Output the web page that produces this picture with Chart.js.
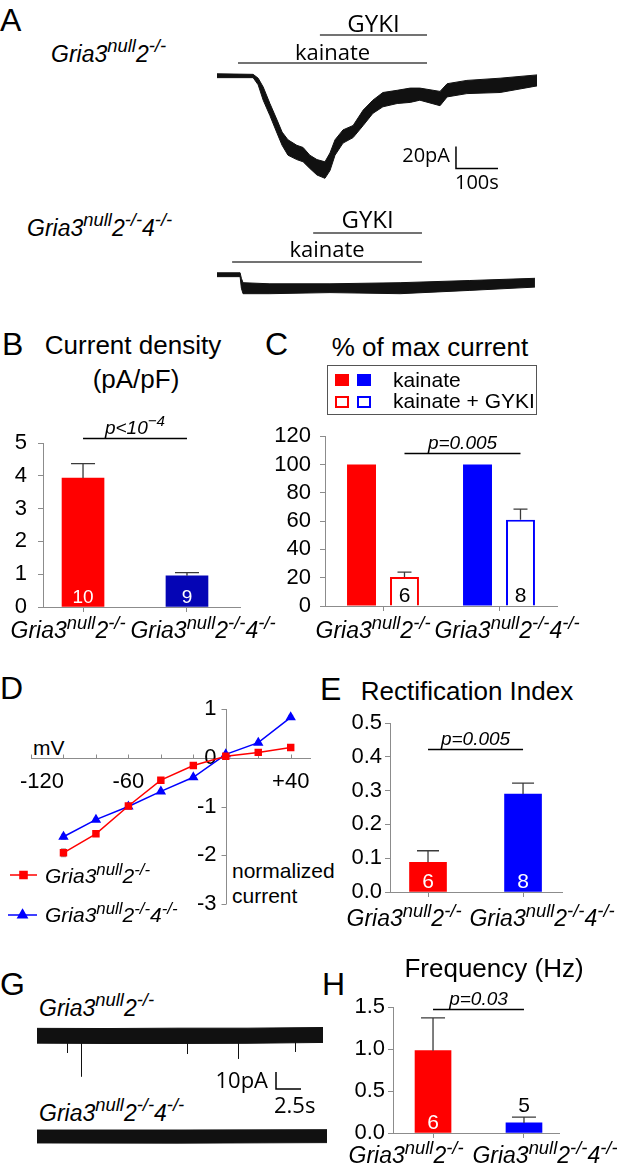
<!DOCTYPE html>
<html>
<head>
<meta charset="utf-8">
<title>Gria3 null figure</title>
<script src="https://cdn.jsdelivr.net/npm/chart.js@4.4.1/dist/chart.umd.min.js"></script>
<style>
  html, body { margin: 0; padding: 0; background: #fff; }
  #page { position: relative; width: 617px; height: 1171px; overflow: hidden;
          font-family: "Liberation Sans", Arial, sans-serif; color: #000; }
  #page canvas { position: absolute; }
  .txt { position: absolute; white-space: nowrap; line-height: 1; }
  .txt .sup { position: relative; font-size: 80%; top: -0.5em; }
  .legend-box { position: absolute; border: 1px solid #555; box-sizing: border-box; }
  .swatch { position: absolute; box-sizing: border-box; width: 14px; height: 12px; }
</style>
</head>
<body>
<div id="page"></div>
<script>
// ---------- data ----------
const genotypes = ['Gria3^{null}2^{-/-}', 'Gria3^{null}2^{-/-}4^{-/-}'];

// A: kainate currents, time (s) vs current (pA), upper / lower edge of the noisy trace
const a1Time  = [0, 86, 98, 110, 126, 143, 155, 169, 190, 205, 221, 238, 257, 269, 281, 300, 324, 348, 371, 395, 429, 460, 483, 531, 548, 595, 674, 762];
const a1Upper = [2, 1.5, -2, -10, -25, -40, -51, -58, -63, -65, -72, -76, -78, -70, -58, -49, -45, -31, -22, -15, -13, -11, -11, -14, -7, -4, -2, 1];
const a1Lower = [-1.5, -1.5, -8, -22, -36, -52, -63, -72, -76, -78, -84, -90, -93, -86, -72, -61, -56, -45, -34, -28, -25, -24, -22, -27, -19, -16, -15, -9];
const a1Kainate = [50, 500];
const a1Gyki = [245, 500];

const a2Time  = [0, 55, 58, 62, 126, 269, 436, 602, 757];
const a2Upper = [2, 2, -3, -7, -8, -8, -7, -5, -3];
const a2Lower = [-1.5, -1.5, -12, -17, -17, -16, -17, -14, -11];
const a2Kainate = [36, 488];
const a2Gyki = [229, 488];

// B: current density (pA/pF)
const densityMean = [3.93, 0.95];
const densityErr = [0.44, 0.10];
const densityN = [10, 9];
const densityTicks = ['0', '1', '2', '3', '4', '5'];

// C: % of max current
const maxKainate = [100, 100];
const maxKainateGyki = [20.5, 61];
const maxKainateGykiErr = [3.5, 7.5];
const maxN = [6, 8];
const maxTicks = ['0', '20', '40', '60', '80', '100', '120'];

// D: I-V relation (mV vs normalized current)
const ivVoltage = [-100, -80, -60, -40, -20, 0, 20, 40];
const ivGria2 = [-1.95, -1.56, -0.99, -0.46, -0.16, 0.03, 0.11, 0.21];
const ivGria2Err = [0.08, 0.04, 0.02, 0.03, 0.02, 0.01, 0.02, 0.02];
const ivGria24 = [-1.62, -1.27, -1.0, -0.69, -0.40, 0.07, 0.31, 0.83];
const ivGria24Err = [0.05, 0.03, 0.02, 0.02, 0.02, 0.01, 0.03, 0.04];
const ivXTicks = [-120, -100, -80, -60, -40, -20, 0, 20, 40];
const ivXLabelValues = [-120, -60, 40];
const ivXLabels = ['-120', '-60', '+40'];
const ivYTicks = ['1', '0', '-1', '-2', '-3'];

// E: rectification index
const riMean = [0.088, 0.29];
const riErr = [0.034, 0.032];
const riN = [6, 8];
const riTicks = ['0.0', '0.1', '0.2', '0.3', '0.4', '0.5'];

// G: spontaneous currents, time (s) vs current (pA)
const g1Time  = [0, 7, 14, 21, 28.6];
const g1Upper = [4.5, 4.4, 4.6, 4.6, 5.0];
const g1Lower = [-4.2, -4.4, -4.4, -4.3, -3.8];
const g1SpikeTime = [3.0, 4.4, 15.0, 20.1, 25.8];
const g1SpikeAmp = [-10, -24, -10.6, -13.5, -9.4];
const g2Time  = [0, 14, 29];
const g2Upper = [3.8, 3.8, 4.0];
const g2Lower = [-3.8, -3.9, -3.6];

// H: event frequency (Hz)
const freqMean = [0.98, 0.12];
const freqErr = [0.39, 0.07];
const freqN = [6, 5];
const freqTicks = ['0.0', '0.5', '1.0', '1.5'];

// ---------- helpers ----------
const SANS = '"Liberation Sans", Arial, sans-serif';
const TRACE_FONT = '"Open Sans", "Liberation Sans", sans-serif';
const AXIS_GREY = '#8c8c8c';
const RED = '#ff0000';
const BLUE = '#0000ff';
const ASC = 0.8465; // baseline offset of Liberation Sans at line-height 1

Chart.defaults.font.family = SANS;
Chart.defaults.color = '#000';

const page = document.getElementById('page');

function makeCanvas(box) {
  const c = document.createElement('canvas');
  c.width = box.w;
  c.height = box.h;
  c.style.left = box.x + 'px';
  c.style.top = box.y + 'px';
  c.style.width = box.w + 'px';
  c.style.height = box.h + 'px';
  page.appendChild(c);
  return c;
}

function parseRich(s) {
  const parts = [];
  const re = /\^\{([^}]*)\}/g;
  let last = 0, m;
  while ((m = re.exec(s))) {
    if (m.index > last) parts.push({t: s.slice(last, m.index), sup: false});
    parts.push({t: m[1], sup: true});
    last = re.lastIndex;
  }
  if (last < s.length) parts.push({t: s.slice(last), sup: false});
  return parts;
}

function drawRich(ctx, s, x, y, size, align, italic) {
  const parts = parseRich(s);
  const fontFor = p => (italic ? 'italic ' : '') + (p.sup ? size * 0.8 : size) + 'px ' + SANS;
  let w = 0;
  parts.forEach(p => { ctx.font = fontFor(p); p.w = ctx.measureText(p.t).width; w += p.w; });
  let cx = align === 'center' ? x - w / 2 : align === 'right' ? x - w : x;
  ctx.textAlign = 'left';
  ctx.textBaseline = 'alphabetic';
  parts.forEach(p => {
    ctx.font = fontFor(p);
    ctx.fillText(p.t, cx, p.sup ? y - size * 0.4 : y);
    cx += p.w;
  });
}

function richHTML(s) {
  return s.replace(/\^\{([^}]*)\}/g, '<span class="sup">$1</span>');
}

function addText(html, x, baseline, size, opts = {}) {
  const d = document.createElement('div');
  d.className = 'txt';
  d.innerHTML = html;
  d.style.fontSize = size + 'px';
  d.style.top = (baseline - ASC * size) + 'px';
  d.style.left = x + 'px';
  if (opts.italic) d.style.fontStyle = 'italic';
  if (opts.center) d.style.transform = 'translateX(-50%)';
  page.appendChild(d);
}

// ---------- trace panels (A, G) ----------
function traceDecor(o) {
  return {
    id: 'traceDecor',
    afterDatasetsDraw(chart) {
      const {ctx, scales: {x, y}} = chart;
      ctx.save();
      if (o.spikes) {
        ctx.strokeStyle = '#111';
        ctx.lineWidth = 1;
        ctx.beginPath();
        o.spikes.t.forEach((t, i) => {
          const px = Math.round(x.getPixelForValue(t)) + 0.5;
          ctx.moveTo(px, y.getPixelForValue(0));
          ctx.lineTo(px, y.getPixelForValue(o.spikes.amp[i]));
        });
        ctx.stroke();
      }
      (o.drugs || []).forEach(d => {
        const a = x.getPixelForValue(d.period[0]);
        const b = x.getPixelForValue(d.period[1]);
        ctx.strokeStyle = '#444';
        ctx.lineWidth = 1.3;
        ctx.beginPath();
        ctx.moveTo(a, d.lineY);
        ctx.lineTo(b, d.lineY);
        ctx.stroke();
        ctx.fillStyle = '#000';
        ctx.font = d.size + 'px ' + TRACE_FONT;
        ctx.textAlign = 'center';
        ctx.textBaseline = 'alphabetic';
        ctx.fillText(d.name, (a + b) / 2, d.textY);
      });
      if (o.bar) {
        const b = o.bar;
        const sx = x.getPixelForValue(b.t), sx2 = x.getPixelForValue(b.t + b.dt);
        const sy = y.getPixelForValue(b.top), sy2 = y.getPixelForValue(b.top - b.di);
        ctx.strokeStyle = '#000';
        ctx.lineWidth = 1.5;
        ctx.beginPath();
        ctx.moveTo(sx, sy);
        ctx.lineTo(sx, sy2);
        ctx.lineTo(sx2, sy2);
        ctx.stroke();
        ctx.fillStyle = '#000';
        ctx.font = b.size + 'px ' + TRACE_FONT;
        ctx.textBaseline = 'alphabetic';
        ctx.textAlign = 'right';
        ctx.fillText(b.yLabel, sx + b.yDx, sy2 + b.yDy);
        ctx.textAlign = 'left';
        ctx.fillText(b.xLabel, sx + b.xDx, sy2 + b.xDy);
      }
      ctx.restore();
    }
  };
}

function tracePanel(box, o) {
  const canvas = makeCanvas(box);
  const pts = arr => o.time.map((t, i) => ({x: t, y: arr[i]}));
  new Chart(canvas, {
    type: 'line',
    data: {
      datasets: [
        {data: pts(o.upper), borderColor: '#111', borderWidth: 1, pointRadius: 0, fill: false, tension: 0},
        {data: pts(o.lower), borderColor: '#111', borderWidth: 1, pointRadius: 0, fill: '-1',
         backgroundColor: '#111', tension: 0}
      ]
    },
    options: {
      responsive: false,
      animation: false,
      events: [],
      layout: {padding: 0},
      scales: {
        x: {type: 'linear', min: 0, max: box.w / o.pxPerS, display: false},
        y: {min: -(box.h - o.baseline) / o.pxPerPA, max: o.baseline / o.pxPerPA, display: false}
      },
      plugins: {legend: {display: false}, tooltip: {enabled: false}}
    },
    plugins: [traceDecor(o)]
  });
}

// ---------- bar panels (B, C, E, H) ----------
function barDecor(o) {
  return {
    id: 'barDecor',
    afterDatasetsDraw(chart) {
      const {ctx, chartArea, scales: {x, y}} = chart;
      ctx.save();
      chart.data.datasets.forEach((ds, di) => {
        chart.getDatasetMeta(di).data.forEach((bar, i) => {
          const raw = ds.data[i];
          const v = typeof raw === 'object' ? raw.y : raw;
          let top = bar.y;
          if (ds.errors) {
            top = y.getPixelForValue(v + ds.errors[i]);
            ctx.strokeStyle = '#3a3a3a';
            ctx.lineWidth = 1.3;
            ctx.beginPath();
            ctx.moveTo(bar.x, bar.y);
            ctx.lineTo(bar.x, top);
            ctx.moveTo(bar.x - o.capHalf, top);
            ctx.lineTo(bar.x + o.capHalf, top);
            ctx.stroke();
          }
          if (ds.counts) {
            ctx.fillStyle = ds.countColor[i];
            ctx.font = o.countSize + 'px ' + SANS;
            ctx.textAlign = 'center';
            ctx.textBaseline = 'alphabetic';
            const by = ds.countPlace[i] === 'above' ? top - 5 : chartArea.bottom - 4;
            ctx.fillText(String(ds.counts[i]), bar.x, by);
          }
        });
      });
      const sm = chart.getDatasetMeta(o.sig.dataset).data;
      const sy = Math.round(y.getPixelForValue(o.sig.y)) + 0.5;
      ctx.strokeStyle = '#000';
      ctx.lineWidth = 1.3;
      ctx.beginPath();
      ctx.moveTo(sm[0].x, sy);
      ctx.lineTo(sm[1].x, sy);
      ctx.stroke();
      ctx.fillStyle = '#000';
      drawRich(ctx, o.sig.text, (sm[0].x + sm[1].x) / 2, sy - 5, 19, 'center', true);
      genotypes.forEach((g, i) => {
        drawRich(ctx, g, x.getPixelForTick(i) + o.labelShift[i], chartArea.bottom + o.labelDy, 23, 'center', true);
      });
      ctx.restore();
    }
  };
}

function barPanel(box, area, o) {
  const canvas = makeCanvas(box);
  const yVals = o.yTicks.map(Number);
  const axisGrid = {display: true, drawOnChartArea: false, drawTicks: true, tickLength: 5,
                    color: AXIS_GREY, offset: false};
  const xScale = o.category
    ? {type: 'category', offset: true}
    : {type: 'linear', min: o.xRange[0], max: o.xRange[1], offset: false,
       afterBuildTicks: s => { s.ticks = genotypes.map((g, i) => ({value: i})); }};
  Object.assign(xScale, {
    grid: axisGrid,
    border: {display: true, color: AXIS_GREY, width: 1},
    ticks: {display: false},
    afterFit: s => { s.height = box.y + box.h - area.bottom; }
  });
  new Chart(canvas, {
    type: 'bar',
    data: o.category ? {labels: genotypes, datasets: o.datasets} : {datasets: o.datasets},
    options: {
      responsive: false,
      animation: false,
      events: [],
      layout: {padding: {left: 0, top: area.top - box.y, right: box.x + box.w - area.right, bottom: 0}},
      plugins: {legend: {display: false}, tooltip: {enabled: false}},
      scales: {
        x: xScale,
        y: {
          min: 0,
          max: yVals[yVals.length - 1],
          afterBuildTicks: s => { s.ticks = yVals.map(v => ({value: v})); },
          ticks: {autoSkip: false, padding: o.tickPad, font: {size: 22}, color: '#000',
                  callback: v => o.yTicks[yVals.indexOf(v)]},
          grid: axisGrid,
          border: {display: true, color: AXIS_GREY, width: 1},
          afterFit: s => { s.width = area.left - box.x; }
        }
      }
    },
    plugins: [barDecor(o)]
  });
}

// ---------- I-V panel (D) ----------
function ivPanel(box, area) {
  const canvas = makeCanvas(box);
  const legendRows = [{y: 185, x0: 10, x1: 37, ty: 193}, {y: 225, x0: 8, x1: 37, ty: 232}];
  const ivDecor = {
    id: 'ivDecor',
    beforeDatasetsDraw(chart) {
      const {ctx, chartArea: ca, scales: {x, y}} = chart;
      const x0 = Math.round(x.getPixelForValue(0)) + 0.5;
      const y0 = Math.round(y.getPixelForValue(0)) + 0.5;
      ctx.save();
      ctx.strokeStyle = AXIS_GREY;
      ctx.lineWidth = 1;
      ctx.beginPath();
      ctx.moveTo(ca.left, y0); ctx.lineTo(ca.right, y0);
      ctx.moveTo(x0, ca.top); ctx.lineTo(x0, ca.bottom);
      ivXTicks.forEach(v => {
        const px = Math.round(x.getPixelForValue(v)) + 0.5;
        ctx.moveTo(px, y0); ctx.lineTo(px, y0 - 4);
      });
      ivYTicks.forEach(l => {
        const py = Math.round(y.getPixelForValue(+l)) + 0.5;
        ctx.moveTo(x0, py); ctx.lineTo(x0 - 5, py);
      });
      ctx.stroke();
      ctx.fillStyle = '#000';
      ctx.font = '22px ' + SANS;
      ctx.textAlign = 'right';
      ctx.textBaseline = 'middle';
      ivYTicks.forEach(l => ctx.fillText(l, x0 - 10, y.getPixelForValue(+l)));
      ctx.textAlign = 'center';
      ctx.textBaseline = 'alphabetic';
      ivXLabelValues.forEach((v, i) => {
        const w = ctx.measureText(ivXLabels[i]).width;
        ctx.fillText(ivXLabels[i], Math.max(x.getPixelForValue(v), w / 2 + 20), y0 + 29);
      });
      ctx.strokeStyle = '#8a8a8a';
      chart.data.datasets.forEach(ds => {
        ctx.beginPath();
        ds.data.forEach((p, i) => {
          const px = x.getPixelForValue(p.x);
          const a = y.getPixelForValue(p.y + ds.errors[i]);
          const b = y.getPixelForValue(p.y - ds.errors[i]);
          ctx.moveTo(px, a); ctx.lineTo(px, b);
          ctx.moveTo(px - 2.5, a); ctx.lineTo(px + 2.5, a);
          ctx.moveTo(px - 2.5, b); ctx.lineTo(px + 2.5, b);
        });
        ctx.stroke();
      });
      ctx.restore();
    },
    afterDraw(chart) {
      const ctx = chart.ctx;
      ctx.save();
      chart.data.datasets.forEach((ds, i) => {
        const r = legendRows[i];
        ctx.strokeStyle = ds.borderColor;
        ctx.fillStyle = ds.backgroundColor;
        ctx.lineWidth = 1.5;
        ctx.beginPath();
        ctx.moveTo(r.x0, r.y); ctx.lineTo(r.x1, r.y);
        ctx.stroke();
        Chart.helpers.drawPoint(ctx, {pointStyle: ds.pointStyle, radius: ds.pointRadius + 0.8, borderWidth: 1},
                                (r.x0 + r.x1) / 2, r.y);
        ctx.fillStyle = '#000';
        drawRich(ctx, genotypes[i], 45, r.ty, 21, 'left', true);
      });
      ctx.restore();
    }
  };
  const pts = arr => ivVoltage.map((v, i) => ({x: v, y: arr[i]}));
  new Chart(canvas, {
    type: 'scatter',
    data: {
      datasets: [
        {data: pts(ivGria2), errors: ivGria2Err, borderColor: RED, backgroundColor: RED,
         pointStyle: 'rect', pointRadius: 4.2, borderWidth: 1.5, showLine: true},
        {data: pts(ivGria24), errors: ivGria24Err, borderColor: BLUE, backgroundColor: BLUE,
         pointStyle: 'triangle', pointRadius: 4.5, borderWidth: 1.5, showLine: true}
      ]
    },
    options: {
      responsive: false,
      animation: false,
      events: [],
      layout: {padding: {left: area.left - box.x, right: box.x + box.w - area.right,
                         top: area.top - box.y, bottom: box.y + box.h - area.bottom}},
      scales: {
        x: {type: 'linear', min: -120, max: 52.5, display: false},
        y: {min: -3, max: 1, display: false}
      },
      plugins: {legend: {display: false}, tooltip: {enabled: false}}
    },
    plugins: [ivDecor]
  });
}

// ---------- layout ----------
// panel letters
[['A', 0, 31], ['B', 2, 355], ['C', 265, 355], ['D', 0, 699], ['E', 320, 700], ['G', 0, 995], ['H', 322, 995]]
  .forEach(([l, x, b]) => addText(l, x, b, 32));

// A
addText(richHTML(genotypes[0]), 51, 62, 23, {italic: true});
addText(richHTML(genotypes[1]), 27, 236, 23, {italic: true});
tracePanel({x: 217, y: 0, w: 330, h: 200}, {
  time: a1Time, upper: a1Upper, lower: a1Lower, pxPerS: 0.42, pxPerPA: 1.1, baseline: 76,
  drugs: [
    {name: 'GYKI', period: a1Gyki, lineY: 35, textY: 32, size: 24},
    {name: 'kainate', period: a1Kainate, lineY: 63, textY: 60, size: 22}
  ],
  bar: {t: 569, top: -64, dt: 100, di: 20, yLabel: '20pA', xLabel: '100s', size: 20,
        yDx: -6, yDy: -6, xDx: -1, xDy: 21}
});
tracePanel({x: 217, y: 200, w: 330, h: 110}, {
  time: a2Time, upper: a2Upper, lower: a2Lower, pxPerS: 0.42, pxPerPA: 1.1, baseline: 75,
  drugs: [
    {name: 'GYKI', period: a2Gyki, lineY: 33, textY: 28, size: 24},
    {name: 'kainate', period: a2Kainate, lineY: 62, textY: 57, size: 22}
  ]
});

// B
addText('Current density', 133, 354, 26, {center: true});
addText('(pA/pF)', 136, 388, 26, {center: true});
barPanel({x: 0, y: 405, w: 290, h: 245}, {left: 43, right: 240, top: 443, bottom: 607}, {
  xRange: [-0.385, 1.51],
  datasets: [{
    data: densityMean.map((v, i) => ({x: i, y: v})),
    backgroundColor: [RED, '#0505b5'], barThickness: 42,
    errors: densityErr, counts: densityN, countColor: ['#fff', '#fff'], countPlace: ['in', 'in']
  }],
  yTicks: densityTicks, tickPad: 11, capHalf: 12, countSize: 19,
  sig: {text: 'p<10^{\u22124}', y: 5.15, dataset: 0},
  labelShift: [-15, 16], labelDy: 31
});

// C
addText('% of max current', 430, 356, 26, {center: true});
(function legendC() {
  const box = document.createElement('div');
  box.className = 'legend-box';
  Object.assign(box.style, {left: '327px', top: '365px', width: '210px', height: '50px'});
  page.appendChild(box);
  [[335, 374, RED, true], [357, 374, BLUE, true], [335, 396, RED, false], [357, 396, BLUE, false]]
    .forEach(([x, y, c, filled]) => {
      const s = document.createElement('div');
      s.className = 'swatch';
      Object.assign(s.style, {left: x + 'px', top: y + 'px',
        background: filled ? c : '#fff', border: filled ? 'none' : '2px solid ' + c});
      page.appendChild(s);
    });
  addText('kainate', 393, 387, 21);
  addText('kainate + GYKI', 393, 408, 21);
})();
barPanel({x: 260, y: 414, w: 357, h: 236}, {left: 325, right: 557, top: 434, bottom: 606}, {
  category: true,
  datasets: [
    {label: 'kainate', data: maxKainate, backgroundColor: [RED, BLUE], borderWidth: 0,
     categoryPercentage: 0.741, barPercentage: 0.674},
    {label: 'kainate + GYKI', data: maxKainateGyki, backgroundColor: '#fff', borderColor: [RED, BLUE],
     borderWidth: 2, categoryPercentage: 0.741, barPercentage: 0.674,
     errors: maxKainateGykiErr, counts: maxN, countColor: ['#000', '#000'], countPlace: ['in', 'in']}
  ],
  yTicks: maxTicks, tickPad: 9, capHalf: 7, countSize: 21,
  sig: {text: 'p=0.005', y: 107.8, dataset: 1},
  labelShift: [-10, 8], labelDy: 32
});

// D
addText('mV', 33, 755, 21);
addText('normalized', 232, 878, 21);
addText('current', 232, 903, 21);
ivPanel({x: 0, y: 690, w: 340, h: 245}, {left: 31, right: 311, top: 709, bottom: 904});

// E
addText('Rectification Index', 467, 700, 26, {center: true});
barPanel({x: 330, y: 703, w: 287, h: 237}, {left: 390, right: 562, top: 723, bottom: 892}, {
  xRange: [-0.4, 1.41],
  datasets: [{
    data: riMean.map((v, i) => ({x: i, y: v})),
    backgroundColor: [RED, BLUE], barThickness: 37,
    errors: riErr, counts: riN, countColor: ['#fff', '#fff'], countPlace: ['in', 'in']
  }],
  yTicks: riTicks, tickPad: 3, capHalf: 11, countSize: 21,
  sig: {text: 'p=0.005', y: 0.423, dataset: 0},
  labelShift: [-24, 19], labelDy: 34
});

// G
addText(richHTML(genotypes[0]), 39, 1016, 23, {italic: true});
addText(richHTML(genotypes[1]), 39, 1121, 23, {italic: true});
tracePanel({x: 37, y: 1015, w: 292, h: 105}, {
  time: g1Time, upper: g1Upper, lower: g1Lower, pxPerS: 10, pxPerPA: 1.7, baseline: 21,
  spikes: {t: g1SpikeTime, amp: g1SpikeAmp},
  bar: {t: 23.9, top: -21.2, dt: 2.5, di: 10, yLabel: '10pA', xLabel: '2.5s', size: 22,
        yDx: -8, yDy: -1, xDx: -2, xDy: 24}
});
tracePanel({x: 37, y: 1125, w: 292, h: 25}, {
  time: g2Time, upper: g2Upper, lower: g2Lower, pxPerS: 10, pxPerPA: 1.7, baseline: 11.5
});

// H
addText('Frequency (Hz)', 494, 977, 26, {center: true});
barPanel({x: 330, y: 985, w: 287, h: 186}, {left: 393, right: 559, top: 1007, bottom: 1133}, {
  xRange: [-0.44, 1.385],
  datasets: [{
    data: freqMean.map((v, i) => ({x: i, y: v})),
    backgroundColor: [RED, BLUE], barThickness: 36,
    errors: freqErr, counts: freqN, countColor: ['#fff', '#000'], countPlace: ['in', 'above']
  }],
  yTicks: freqTicks, tickPad: 3, capHalf: 12, countSize: 21,
  sig: {text: 'p=0.03', y: 1.476, dataset: 0},
  labelShift: [-27, 21], labelDy: 30
});
</script>
</body>
</html>
